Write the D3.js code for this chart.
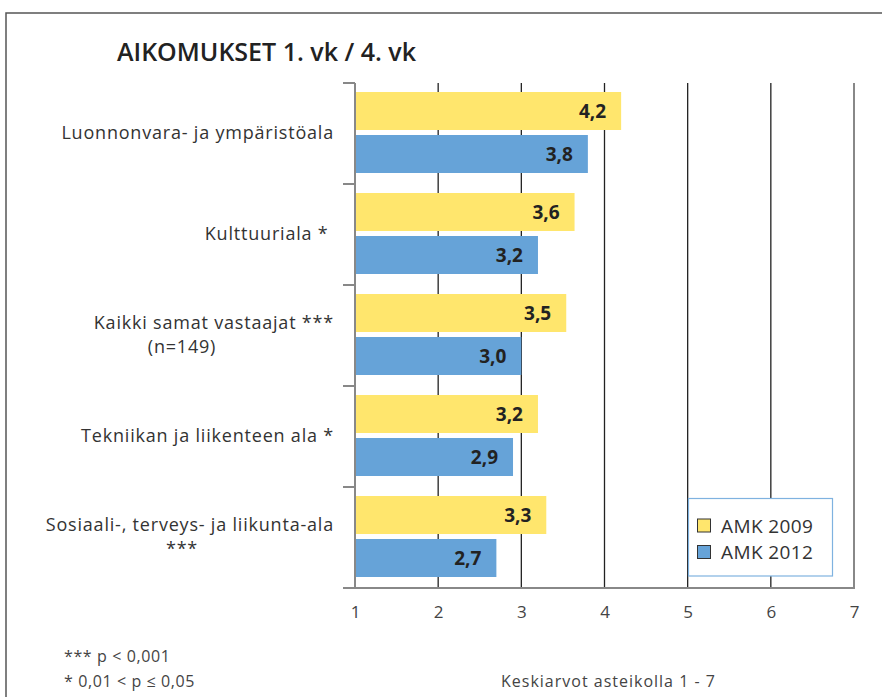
<!DOCTYPE html>
<html>
<head>
<meta charset="utf-8">
<script src="https://cdn.jsdelivr.net/npm/d3@7"></script>
<style>
  body { margin: 0; background: #fff; }
  svg { display: block; font-family: "Open Sans", sans-serif; }
</style>
</head>
<body>
<div id="chart"></div>
<script>
// categories, top to bottom (line 1 / optional line 2 of the label)
const categories = [
  "Luonnonvara- ja ympäristöala",
  "Kulttuuriala *\u00a0",
  "Kaikki samat vastaajat ***",
  "Tekniikan ja liikenteen ala *",
  "Sosiaali-, terveys- ja liikunta-ala"
];
const secondLines = ["", "", "(n=149)", "", "***"];

const series = ["AMK 2009", "AMK 2012"];
const values2009 = [4.2, 3.64, 3.54, 3.2, 3.3];
const values2012 = [3.8, 3.2, 3.0, 2.9, 2.7];
const xTicks = [1, 2, 3, 4, 5, 6, 7];

const colors = { "AMK 2009": "#ffe66d", "AMK 2012": "#66a3d8" };

const W = 882, H = 697;
const svg = d3.select("#chart").append("svg")
  .attr("width", W).attr("height", H);

// outer frame (top + left edges visible)
svg.append("path")
  .attr("d", `M6,${H} L6,13 L${W},13`)
  .attr("fill", "none").attr("stroke", "#555").attr("stroke-width", 1.5);

// title
svg.append("text")
  .attr("x", 117).attr("y", 61)
  .style("font-size", "25px").style("font-weight", 600)
  .attr("fill", "#222")
  .text("AIKOMUKSET 1. vk / 4. vk");

//scales
const x = d3.scaleLinear().domain([1, 7]).range([355, 854]);
const y = d3.scaleBand().domain(categories).range([83, 588]);
const inner = d3.scaleBand().domain(series).range([9, 90]).paddingInner(5 / 43);

// gridlines 2..6 (dark), drawn behind bars
svg.append("g").selectAll("line")
  .data(xTicks.filter(d => d > 1 && d < 7))
  .join("line")
  .attr("x1", d => x(d)).attr("x2", d => x(d))
  .attr("y1", 83).attr("y2", 588)
  .attr("stroke", "#222").attr("stroke-width", 1.3);

// bars
const rows = categories.map((c, i) => ({ cat: c, vals: [values2009[i], values2012[i]] }));
const group = svg.append("g").selectAll("g")
  .data(rows).join("g")
  .attr("transform", d => `translate(0,${y(d.cat)})`);

group.selectAll("rect")
  .data(d => d.vals.map((v, j) => ({ s: series[j], v })))
  .join("rect")
  .attr("x", x(1))
  .attr("y", d => inner(d.s))
  .attr("width", d => x(d.v) - x(1))
  .attr("height", inner.bandwidth())
  .attr("fill", d => colors[d.s]);

group.selectAll("text.val")
  .data(d => d.vals.map((v, j) => ({ s: series[j], v })))
  .join("text")
  .attr("class", "val")
  .attr("x", d => x(d.v) - 15)
  .attr("y", d => inner(d.s) + inner.bandwidth() / 2 + 7)
  .attr("text-anchor", "end")
  .style("font-size", "19px").style("font-weight", 700)
  .attr("fill", "#222")
  .text(d => d3.format(".1f")(d.v).replace(".", ","));

// axis frame: left, bottom, right (gray)
svg.append("path")
  .attr("d", `M${x(1)},83 L${x(1)},588 L${x(7)},588 L${x(7)},83`)
  .attr("fill", "none").attr("stroke", "#888").attr("stroke-width", 2);

// category ticks on the left axis
const catTicks = categories.map(c => y(c)).concat([588]);
svg.append("g").selectAll("line")
  .data(catTicks).join("line")
  .attr("x1", x(1) - 12).attr("x2", x(1))
  .attr("y1", d => d).attr("y2", d => d)
  .attr("stroke", "#888").attr("stroke-width", 2);

// category labels
const labels = svg.append("g")
  .style("font-size", "18px").style("letter-spacing", "0.8px")
  .attr("fill", "#333");
categories.forEach((c, i) => {
  const cy = y(c) + y.bandwidth() / 2;
  if (secondLines[i]) {
    labels.append("text").attr("x", 334).attr("y", cy - 6.5)
      .attr("text-anchor", "end").text(c);
    labels.append("text").attr("x", 182).attr("y", cy + 17.5)
      .attr("text-anchor", "middle").text(secondLines[i]);
  } else {
    labels.append("text").attr("x", 334).attr("y", cy + 5.5)
      .attr("text-anchor", "end").text(c);
  }
});

// x axis tick labels
const xAxis = d3.axisBottom(x).tickValues(xTicks).tickFormat(d3.format("d"))
  .tickSize(0).tickPadding(18);
const gx = svg.append("g")
  .attr("transform", "translate(0,588)")
  .call(xAxis);
gx.select(".domain").remove();
gx.selectAll("text")
  .style("font-family", "Open Sans").style("font-size", "17px")
  .attr("fill", "#444");

// legend
const legend = svg.append("g");
legend.append("rect")
  .attr("x", 688.5).attr("y", 498.5).attr("width", 144).attr("height", 77.5)
  .attr("fill", "#fff").attr("stroke", "#7fb2e0").attr("stroke-width", 1.2);
series.forEach((s, i) => {
  legend.append("rect")
    .attr("x", 697.5).attr("y", 519 + i * 26.5).attr("width", 13).attr("height", 13)
    .attr("fill", colors[s]).attr("stroke", "#333").attr("stroke-width", 1);
  legend.append("text")
    .attr("x", 721).attr("y", 532.5 + i * 26.5)
    .style("font-size", "19px").style("letter-spacing", "0.4px").attr("fill", "#333")
    .text(s);
});

// footnotes
const notes = svg.append("g").style("font-size", "16px")
  .style("letter-spacing", "0.6px").attr("fill", "#444");
notes.append("text").attr("x", 64).attr("y", 662).text("*** p < 0,001");
notes.append("text").attr("x", 64).attr("y", 687).text("* 0,01 < p ≤ 0,05");
notes.append("text").attr("x", 501).attr("y", 687)
  .style("letter-spacing", "1px").text("Keskiarvot asteikolla 1 - 7");
</script>
</body>
</html>
